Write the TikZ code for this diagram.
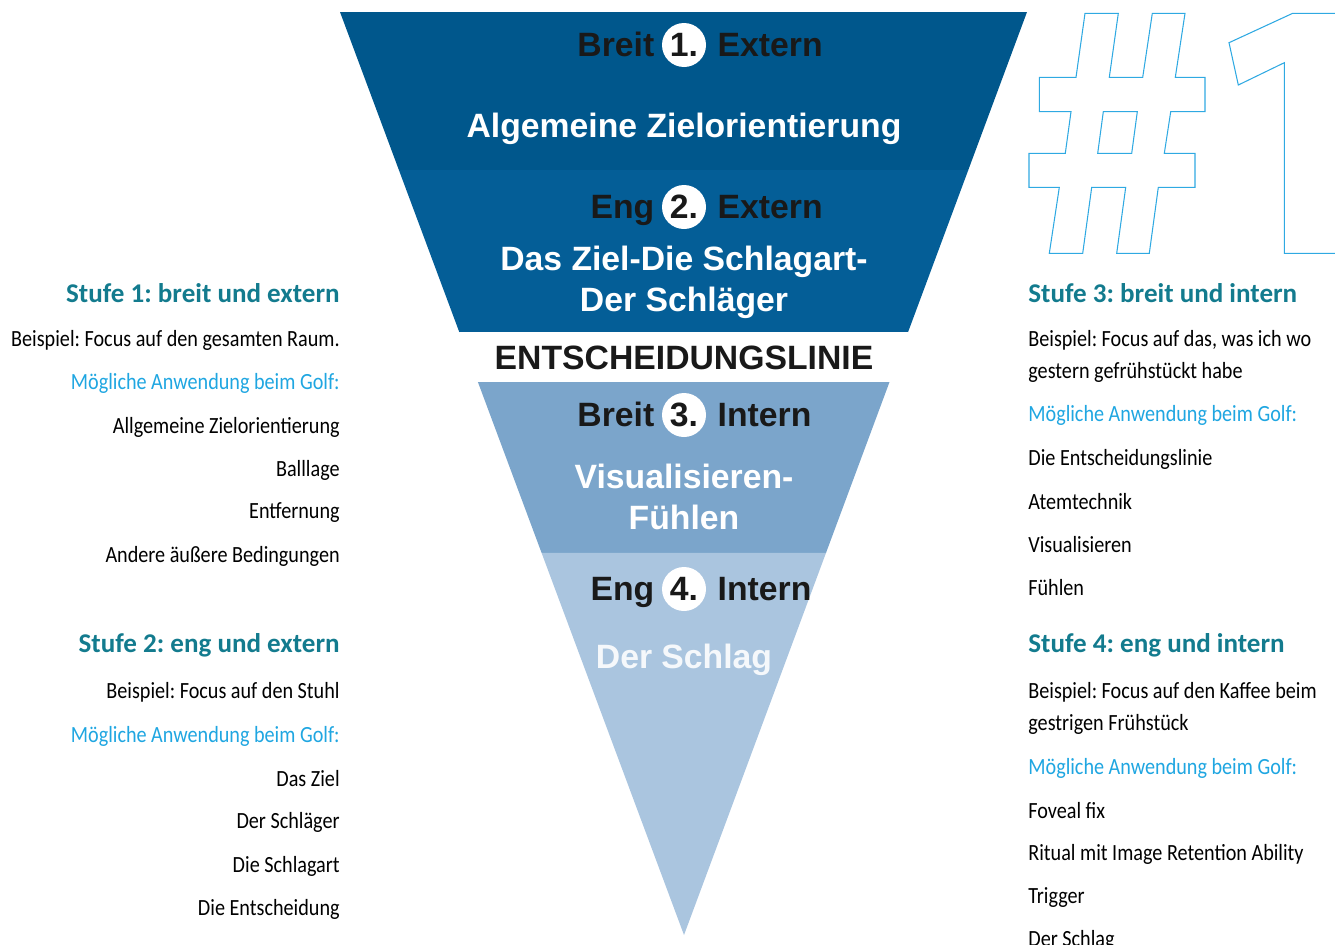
\documentclass[tikz,border=0pt]{standalone}
\usepackage{fontspec}
\setmainfont{Carlito}
\newfontfamily\narrowfont{Carlito}[FakeStretch=0.87]
\newfontfamily\funnelfont{Liberation Sans}
\usepackage{xcolor}
\usetikzlibrary{positioning, calc}
\frenchspacing

\definecolor{bandA}{HTML}{00578C}
\definecolor{bandB}{HTML}{045E97}
\definecolor{bandC}{HTML}{7BA5CB}
\definecolor{bandD}{HTML}{AAC5DF}
\definecolor{stufe}{HTML}{137B8E}
\definecolor{golf}{HTML}{1FA6E1}
\definecolor{hashblue}{HTML}{2FA9E2}

\begin{document}
\begin{tikzpicture}[x=0.02cm, y=-0.02cm, every node/.style={inner sep=0pt},
  head/.style={font=\bfseries\fontsize{15.4}{18}\selectfont, text=stufe},
  item/.style={font=\narrowfont\fontsize{13.2}{18.2}\selectfont, text=black},
  golfitem/.style={item, text=golf},
  dark/.style={font=\funnelfont\bfseries\fontsize{19.2}{22.8}\selectfont, text=black!90},
  light/.style={font=\funnelfont\bfseries\fontsize{19.2}{23.3}\selectfont, text=white, align=center},
  numcirc/.style={circle, fill=white, minimum size=0.88cm, font=\funnelfont\bfseries\fontsize{19.2}{22}\selectfont, text=black!90},
  hash/.style={draw=hashblue, line width=0.6pt}]

\useasboundingbox (0,0) rectangle (1335,944);
\clip (0,0) rectangle (1335,944);

%//funnel
\coordinate (tl) at (340,12);
\coordinate (tr) at (1027,12);
\coordinate (tip) at (684,935);

\foreach \col/\a/\b in {bandA/0/.1712, bandB/.1712/.3467, white/.3467/.4009, bandC/.4009/.5861, bandD/.5861/1}
\fill[\col] ($(tl)!\a!(tip)$) -- ($(tr)!\a!(tip)$) -- ($(tr)!\b!(tip)$) -- ($(tl)!\b!(tip)$) -- cycle;

\foreach \n/\y/\wa/\wb in {1/45/Breit/Extern, 2/207/Eng/Extern, 3/415/Breit/Intern, 4/589/Eng/Intern}
{
\node[numcirc] (c\n) at (684,\y) {\n.};
\node[dark, base left=0.14cm of c\n] (wa\n) {\wa};
\node[dark, base right=0.22cm of c\n] (wb\n) {\wb};
}

\node[light] (t1) at (684,129) {Algemeine Zielorientierung};
\node[light] (t2) at (684,282) {Das Ziel-Die Schlagart-\\Der Schläger};
\node[dark] (linie) at (684,358) {ENTSCHEIDUNGSLINIE};
\node[light] (t3) at (684,497) {Visualisieren-\\Fühlen};
\node[light, text=white!88!bandD] (t4) at (684,660) {Der Schlag};

%//left column
\node[head, anchor=east] (s1) at (340,293) {Stufe 1: breit und extern};
\node[item, anchor=east] (s1ex) at (340,340) {Beispiel: Focus auf den gesamten Raum.};
\node[golfitem, anchor=east] (s1golf) at (340,383) {Mögliche Anwendung beim Golf:};
\foreach \y/\txt [count=\i] in {427/Allgemeine Zielorientierung, 470/Balllage, 513/Entfernung, 556/Andere äußere Bedingungen}
\node[item, anchor=east] (s1u\i) at (340,\y) {\txt};

\node[head, anchor=east] (s2) at (340,645) {Stufe 2: eng und extern};
\node[item, anchor=east] (s2ex) at (340,692) {Beispiel: Focus auf den Stuhl};
\node[golfitem, anchor=east] (s2golf) at (340,736) {Mögliche Anwendung beim Golf:};
\foreach \y/\txt [count=\i] in {779/Das Ziel, 822/Der Schläger, 866/Die Schlagart, 909/Die Entscheidung}
\node[item, anchor=east] (s2u\i) at (340,\y) {\txt};

%//right column
\node[head, anchor=west] (s3) at (1028,293) {Stufe 3: breit und intern};
\node[item, anchor=west, align=left] (s3ex) at (1028,356) {Beispiel: Focus auf das, was ich wo\\gestern gefrühstückt habe};
\node[golfitem, anchor=west] (s3golf) at (1028,415) {Mögliche Anwendung beim Golf:};
\foreach \y/\txt [count=\i] in {459/Die Entscheidungslinie, 502/Atemtechnik, 545/Visualisieren, 588/Fühlen}
\node[item, anchor=west] (s3u\i) at (1028,\y) {\txt};

\node[head, anchor=west] (s4) at (1028,645) {Stufe 4: eng und intern};
\node[item, anchor=west, align=left] (s4ex) at (1028,708) {Beispiel: Focus auf den Kaffee beim\\gestrigen Frühstück};
\node[golfitem, anchor=west] (s4golf) at (1028,768) {Mögliche Anwendung beim Golf:};
\foreach \y/\txt [count=\i] in {811/Foveal fix, 854/Ritual mit Image Retention Ability, 897/Trigger, 940/Der Schlag}
\node[item, anchor=west] (s4u\i) at (1028,\y) {\txt};

%//big #1 outline
\draw[hash] (1085,13.3) -- (1118.3,13.3) -- (1109.3,77.3) -- (1142.7,77.3) -- (1152.3,13.3) -- (1185,13.3) -- (1175.3,77.3) -- (1205,77.3) -- (1205,111.7) -- (1170.7,111.7) -- (1164.3,153.3) -- (1195,153.3) -- (1195,187.3) -- (1158.3,187.3) -- (1149.3,253.3) -- (1116.7,253.3) -- (1125.7,187.3) -- (1091.7,187.3) -- (1082.7,253.3) -- (1049.3,253.3) -- (1059.3,187.3) -- (1029,187.3) -- (1029,153.3) -- (1065.3,153.3) -- (1071,111.7) -- (1039.3,111.7) -- (1039.3,77.3) -- (1076,77.3) -- cycle
  (1103.3,111.7) -- (1137.3,111.7) -- (1131.7,153.3) -- (1097.7,153.3) -- cycle;
\draw[hash] (1340,13.3) -- (1292.7,13.3) -- (1229,42.7) -- (1238.3,85) -- (1284.3,62.7) -- (1284.3,253.3) -- (1340,253.3);

\end{tikzpicture}
\end{document}
